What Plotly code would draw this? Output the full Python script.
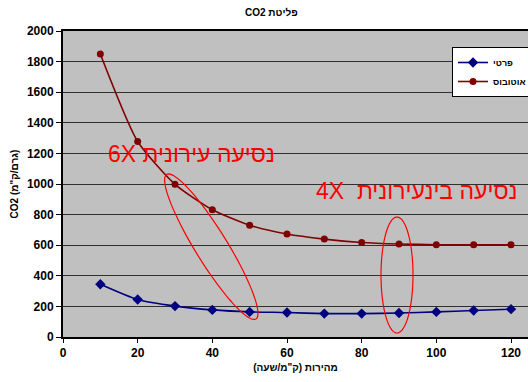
import numpy as np
import plotly.graph_objects as go

speed = [10, 20, 30, 40, 50, 60, 70, 80, 90, 100, 110, 120]
private_car = [345, 245, 202, 177, 164, 160, 153, 153, 157, 164, 173, 182]
bus = [1850, 1278, 998, 832, 731, 673, 640, 618, 608, 603, 603, 603]
x_ticks = [0, 20, 40, 60, 80, 100, 120]
y_ticks = [0, 200, 400, 600, 800, 1000, 1200, 1400, 1600, 1800, 2000]

RLE, PDF = "\u202b", "\u202c"

W, H = 528, 382
ml, mr, mt, mb = 63, 0, 31, 45
x_max = 120 * (W - ml - mr) / 448.0
y_max = 2000
sx = (W - ml - mr) / x_max
sy = (H - mt - mb) / y_max


def ellipse_path(cx, cy, a_px, b_px, ang_deg, n=80):
    t = np.linspace(0, 2 * np.pi, n)
    ang = np.deg2rad(ang_deg)
    dx = a_px * np.cos(t) * np.cos(ang) - b_px * np.sin(t) * np.sin(ang)
    dy = a_px * np.cos(t) * np.sin(ang) + b_px * np.sin(t) * np.cos(ang)
    xs = cx + dx / sx
    ys = cy - dy / sy
    pts = [f"{x:.3f},{y:.3f}" for x, y in zip(xs, ys)]
    return "M " + " L ".join(pts) + " Z"


fig = go.Figure()
fig.add_trace(go.Scatter(
    x=speed, y=private_car, name="פרטי", mode="lines+markers",
    line=dict(color="#000080", width=1.6, shape="spline", smoothing=0.6),
    marker=dict(symbol="diamond", size=8, color="#000080"),
))
fig.add_trace(go.Scatter(
    x=speed, y=bus, name="אוטובוס", mode="lines+markers",
    line=dict(color="#800000", width=1.6, shape="spline", smoothing=0.6),
    marker=dict(symbol="circle", size=7, color="#800000"),
))

font_main = "Liberation Sans, Arial, sans-serif"

fig.update_layout(
    width=W, height=H,
    autosize=False,
    margin=dict(l=ml, r=mr, t=mt, b=mb, pad=0, autoexpand=False),
    paper_bgcolor="white",
    plot_bgcolor="#C0C0C0",
    font=dict(family=font_main, size=11, color="black"),
    showlegend=True,
    legend=dict(
        x=(452 - ml) / (W - ml - mr), y=1 - (47 - mt) / (H - mt - mb),
        xanchor="left", yanchor="top",
        font=dict(size=9, family=font_main, color="black", weight="bold"),
        bgcolor="white", bordercolor="black", borderwidth=1,
        tracegroupgap=0, itemwidth=30,
    ),
    xaxis=dict(
        range=[0, x_max], tickvals=x_ticks, showgrid=False, zeroline=False,
        showline=True, linecolor="black", linewidth=2, mirror=True,
        ticks="outside", ticklen=4, tickcolor="black", automargin=False,
        tickfont=dict(size=12, weight="bold"),
        title=dict(text=RLE + 'מהירות (ק"מ/שעה)' + PDF, font=dict(size=10, weight="bold"), standoff=5),
    ),
    yaxis=dict(
        range=[0, y_max], tickvals=y_ticks, showgrid=True, gridcolor="#303030", gridwidth=1,
        zeroline=False, showline=True, linecolor="black", linewidth=2,
        ticks="outside", ticklen=5, tickcolor="black", automargin=False,
        tickfont=dict(size=12, weight="bold"),
        title=dict(text='CO2 (גרם/ק"מ)', font=dict(size=10, weight="bold"), standoff=6),
    ),
)

fig.add_annotation(
    text=RLE + "פליטת CO2" + PDF, xref="paper", yref="paper",
    x=(271 - ml) / (W - ml - mr), y=1 + (mt - 12) / (H - mt - mb),
    showarrow=False, xanchor="center", yanchor="middle",
    font=dict(size=10, weight="bold", color="black"),
)

fig.add_annotation(
    text=RLE + "נסיעה עירונית 6X" + PDF, x=(191 - ml) / sx, y=(H - mb - 154) / sy,
    showarrow=False, xanchor="center", yanchor="middle",
    font=dict(size=23, color="#FF0000", family=font_main),
)
fig.add_annotation(
    text=RLE + "נסיעה בינעירונית\u00a0 4X" + PDF, x=(416 - ml) / sx, y=(H - mb - 191) / sy,
    showarrow=False, xanchor="center", yanchor="middle",
    font=dict(size=23, color="#FF0000", family=font_main),
)

fig.add_shape(type="path", xref="x", yref="y",
              path=ellipse_path((211.3 - ml) / sx, (H - mb - 246.7) / sy, 85, 16, 58.3),
              line=dict(color="#FF0000", width=1.2))
fig.add_shape(type="path", xref="x", yref="y",
              path=ellipse_path((397 - ml) / sx, (H - mb - 275) / sy, 58, 16, 90),
              line=dict(color="#FF0000", width=1.2))

fig.write_html("out.html")
